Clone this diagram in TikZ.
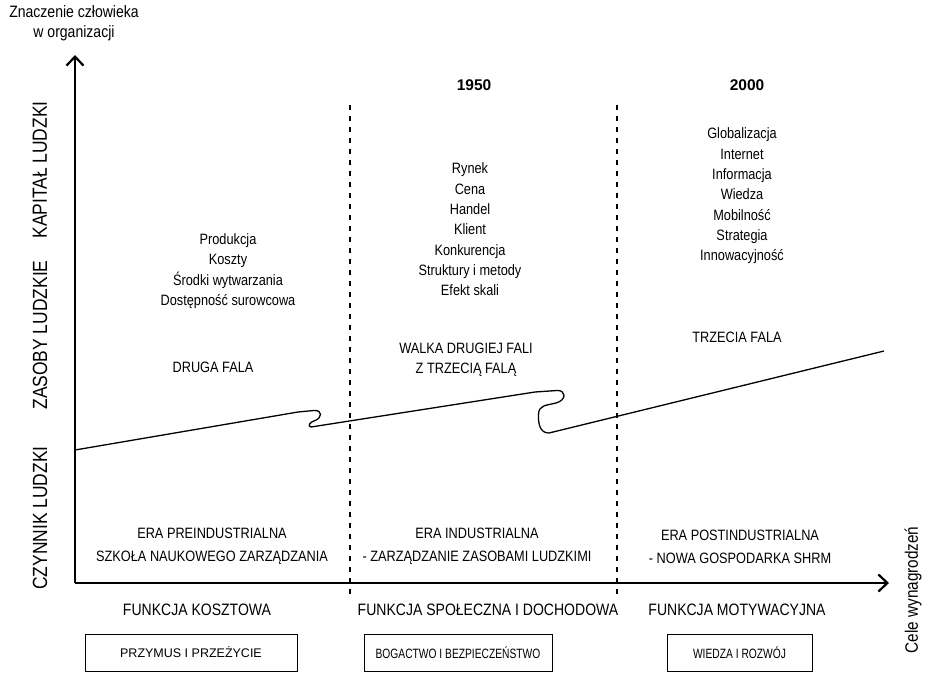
\documentclass[tikz,border=0pt]{standalone}
\usepackage{fontspec}
\setmainfont{Liberation Sans}[FakeStretch=0.85]
\newfontfamily\plainfont{Liberation Sans}
\newfontfamily\tightfont{Liberation Sans}[FakeStretch=0.76]
\usetikzlibrary{arrows.meta}
\tikzset{
  txt/.style={align=center, inner sep=0pt, font=\fontsize{15}{20.3}\selectfont},
  funk/.style={inner sep=0pt, font=\fontsize{16.5}{20}\selectfont},
  era/.style={align=center, inner sep=0pt, font=\fontsize{15}{23}\selectfont},
  side/.style={inner sep=0pt, rotate=90, font=\fontsize{20.5}{22}\selectfont},
  year/.style={inner sep=0pt, font=\plainfont\bfseries\fontsize{15.5}{18}\selectfont},
  goalbox/.style={draw, line width=1pt, minimum height=37pt, inner sep=0pt},
  divider/.style={line width=1.4pt, dash pattern=on 5pt off 6pt},
  wave/.style={line width=1.3pt, line join=round},
  axis/.style={-{Straight Barb[length=9pt,width=17pt,line width=2.2pt]}}
}
\begin{document}
\begin{tikzpicture}[x=1pt,y=-1pt]
\useasboundingbox (0,0) rectangle (928,672);
% axes
\coordinate (origin) at (75,583);
\coordinate (ytop) at (75,55);
\coordinate (xend) at (889,583);
\draw[axis, line width=2.4pt] (origin) -- (ytop);
\draw[axis, line width=1.6pt] (origin) -- (xend);
% dividers
\coordinate (d1t) at (350,105); \coordinate (d1b) at (350,597);
\coordinate (d2t) at (617,105); \coordinate (d2b) at (617,597);
\draw[divider] (d1t) -- (d1b);
\draw[divider] (d2t) -- (d2b);
% axis labels
\node[txt, font=\fontsize{16.5}{20}\selectfont] (ylab) at (74,23) {Znaczenie człowieka\\w organizacji};
\node[side, font=\fontsize{18}{20}\selectfont] (xlab) at (913,590) {Cele wynagrodzeń};
\node[side] (kap) at (40,170) {KAPITAŁ LUDZKI};
\node[side] (zas) at (40,335) {ZASOBY LUDZKIE};
\node[side] (czy) at (40,518) {CZYNNIK LUDZKI};
% years
\node[year] (y1950) at (474,85) {1950};
\node[year] (y2000) at (747,85) {2000};
% column texts
\node[txt] (col1) at (228,271) {Produkcja\\Koszty\\Środki wytwarzania\\Dostępność surowcowa};
\node[txt] (col2) at (470,229.5) {Rynek\\Cena\\Handel\\Klient\\Konkurencja\\Struktury i metody\\Efekt skali};
\node[txt] (col3) at (742,196) {Globalizacja\\Internet\\Informacja\\Wiedza\\Mobilność\\Strategia\\Innowacyjność};
% wave labels
\node[txt] (w1) at (213,367) {DRUGA FALA};
\node[txt] (w2) at (466,359.5) {WALKA DRUGIEJ FALI\\Z TRZECIĄ FALĄ};
\node[txt] (w3) at (737,337) {TRZECIA FALA};
% waves
\coordinate (a0) at (75,450);
\coordinate (a1) at (298,412);
\coordinate (b0) at (311,427);
\coordinate (b1) at (535,392);
\coordinate (c0) at (549,433);
\coordinate (c1) at (884,351);
\draw[wave] (a0) -- (a1) -- (314,410.5) .. controls (323,410) and (322,418) .. (315,420.5)
  .. controls (310,422) and (307,426) .. (b0) -- (b1) -- (557,390.5)
  .. controls (566,390) and (567,400) .. (556,403) .. controls (546,405.5) and (539,405) .. (538.5,414)
  .. controls (538,424) and (540,433) .. (c0) -- (c1);
% eras
\node[era] (e1) at (212,546.5) {ERA PREINDUSTRIALNA\\SZKOŁA NAUKOWEGO ZARZĄDZANIA};
\node[era] (e2) at (477,546.5) {ERA INDUSTRIALNA\\- ZARZĄDZANIE ZASOBAMI LUDZKIMI};
\node[era] (e3) at (740,546.5) {ERA POSTINDUSTRIALNA\\- NOWA GOSPODARKA SHRM};
% functions
\node[funk] (f1) at (197,610) {FUNKCJA KOSZTOWA};
\node[funk] (f2) at (488,610) {FUNKCJA SPOŁECZNA I DOCHODOWA};
\node[funk] (f3) at (737,610) {FUNKCJA MOTYWACYJNA};
% goal boxes
\node[goalbox, minimum width=212pt, font=\plainfont\fontsize{12.5}{15}\selectfont] (g1) at (191,652.5) {PRZYMUS I PRZEŻYCIE};
\node[goalbox, minimum width=188pt, font=\tightfont\fontsize{13.5}{15}\selectfont] (g2) at (458,652.5) {BOGACTWO I BEZPIECZEŃSTWO};
\node[goalbox, minimum width=145pt, font=\tightfont\fontsize{13.5}{15}\selectfont] (g3) at (739.5,652.5) {WIEDZA I ROZWÓJ};
\end{tikzpicture}
\end{document}
